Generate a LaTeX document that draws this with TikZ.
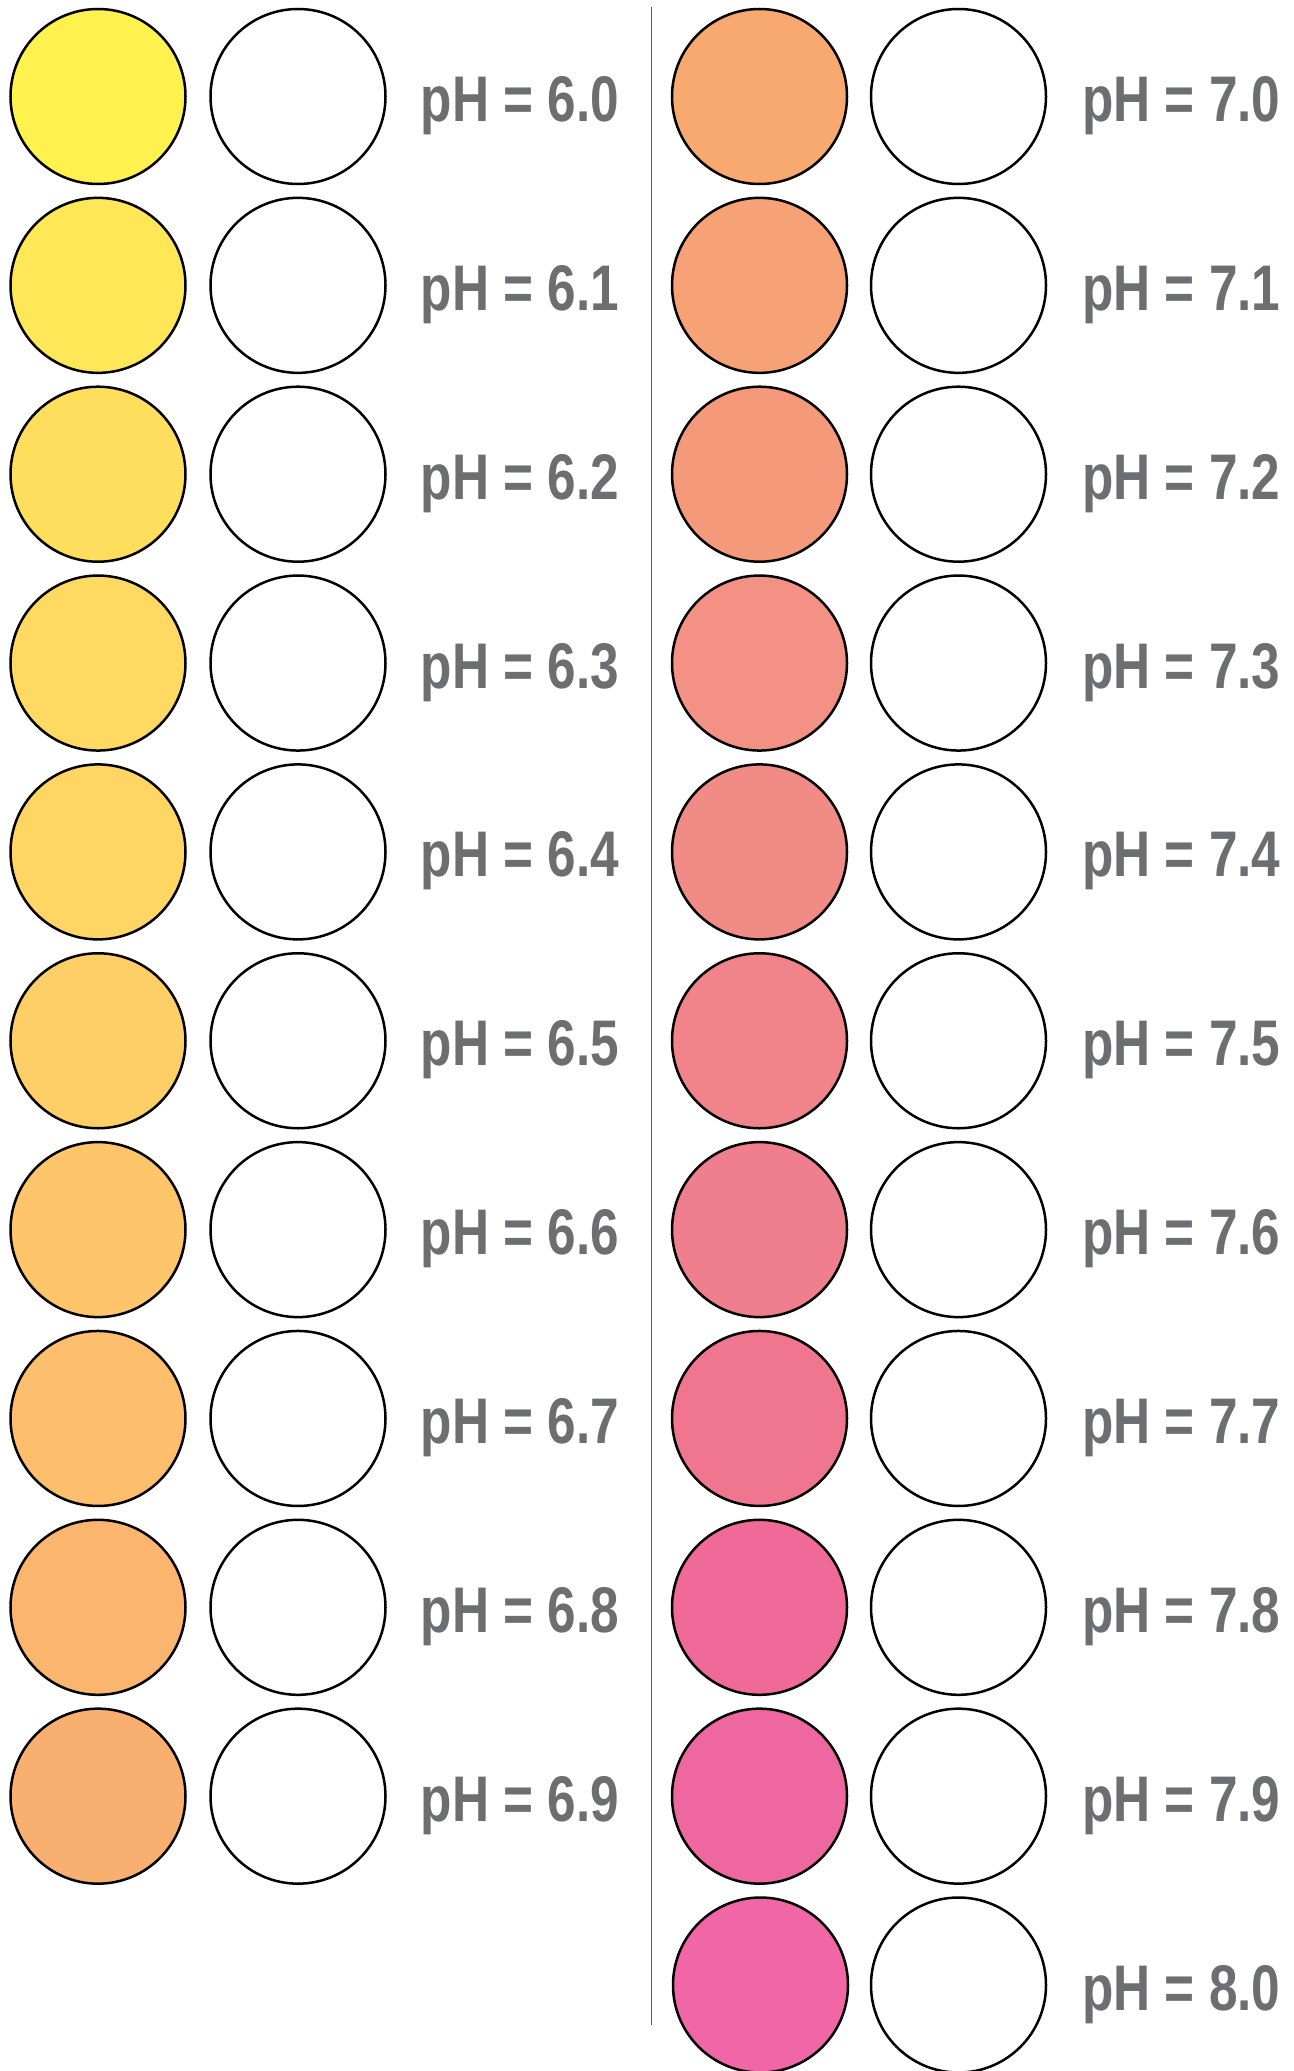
\documentclass[tikz,border=0pt]{standalone}
\usepackage{fontspec}
\setmainfont{Liberation Sans}
\definecolor{labelgray}{HTML}{6D6E71}
\definecolor{linegray}{HTML}{5A5B5E}
\definecolor{cA0}{HTML}{FFF24F}
\definecolor{cA1}{HTML}{FFE758}
\definecolor{cA2}{HTML}{FFDE5D}
\definecolor{cA3}{HTML}{FFD962}
\definecolor{cA4}{HTML}{FFD563}
\definecolor{cA5}{HTML}{FECF66}
\definecolor{cA6}{HTML}{FEC56A}
\definecolor{cA7}{HTML}{FDBF6D}
\definecolor{cA8}{HTML}{FBB56F}
\definecolor{cA9}{HTML}{F9AF6F}
\definecolor{cB0}{HTML}{F8A970}
\definecolor{cB1}{HTML}{F6A176}
\definecolor{cB2}{HTML}{F49A7B}
\definecolor{cB3}{HTML}{F39284}
\definecolor{cB4}{HTML}{F18B85}
\definecolor{cB5}{HTML}{F1848A}
\definecolor{cB6}{HTML}{F07F8E}
\definecolor{cB7}{HTML}{F0768F}
\definecolor{cB8}{HTML}{EF6A99}
\definecolor{cB9}{HTML}{EF67A0}
\definecolor{cB10}{HTML}{F066A7}
\tikzset{
  swatch/.style={circle, draw=black, line width=2.5pt, minimum size=175pt, inner sep=0pt},
  phlabel/.style={anchor=base west, inner sep=0pt, text=labelgray, font=\fontsize{64.5}{70}\selectfont\bfseries},
  divider/.style={draw=linegray, line width=1.4pt}
}
\newcommand{\phtext}[1]{\scalebox{0.796}[1]{pH = #1}}
\begin{document}
\begin{tikzpicture}[x=1pt,y=-1pt]
\useasboundingbox (0,0) rectangle (1293,2071);
\fill[white] (0,0) rectangle (1293,2071);
% left column: pH 6.0 - 6.9
\foreach \i in {0,...,9}{
  \pgfmathsetmacro{\yy}{96.5+188.85*\i}
  \node[swatch, fill=cA\i] (lc\i) at (98,\yy) {};
  \node[swatch, fill=white] (lw\i) at (298,\yy) {};
  \node[phlabel] (lt\i) at (420.5,\yy+25) {\phtext{6.\i}};
}
% right column: pH 7.0 - 7.9
\foreach \i in {0,...,9}{
  \pgfmathsetmacro{\yy}{96.5+188.85*\i}
  \node[swatch, fill=cB\i] (rc\i) at (759.5,\yy) {};
  \node[swatch, fill=white] (rw\i) at (958.5,\yy) {};
  \node[phlabel] (rt\i) at (1082,\yy+25) {\phtext{7.\i}};
}
\node[swatch, fill=cB10] (rc10) at (760.5,1985) {};
\node[swatch, fill=white] (rw10) at (958.5,1985) {};
\node[phlabel] (rt10) at (1082,2010) {\phtext{8.0}};
% divider
\coordinate (dtop) at (651.5,7);
\coordinate (dbot) at (651.5,2025);
\draw[divider] (dtop) -- (dbot);
\end{tikzpicture}
\end{document}
